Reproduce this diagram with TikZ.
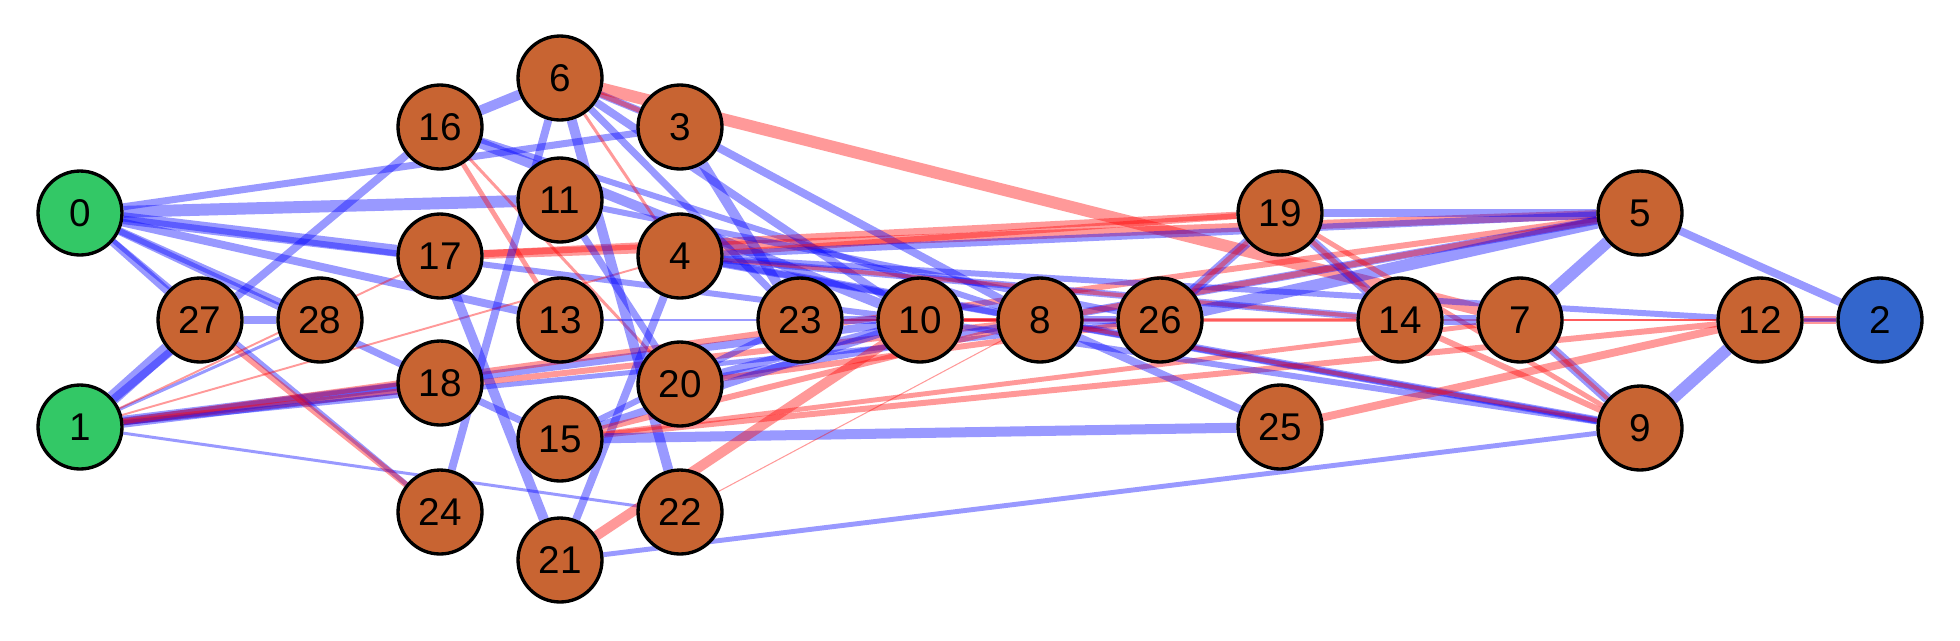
\documentclass[tikz,border=0pt]{standalone}
\usepackage{fontspec}
\setmainfont{Liberation Sans}
\usetikzlibrary{backgrounds}
\definecolor{hidcol}{RGB}{200,100,50}
\definecolor{incol}{RGB}{51,200,102}
\definecolor{outcol}{RGB}{51,102,204}
\tikzset{
	neuron/.style={circle, draw=black, line width=1.9pt, minimum size=1.68cm,
			inner sep=0pt, font=\fontsize{22}{22}\selectfont},
	hid/.style={neuron, fill=hidcol},
	inp/.style={neuron, fill=incol},
	outp/.style={neuron, fill=outcol},
	exc/.style={draw=blue, draw opacity=0.4, line width=#1},
	inh/.style={draw=red, draw opacity=0.4, line width=#1}
}

\begin{document}
\begin{tikzpicture}[x=0.02cm, y=-0.02cm]
		\useasboundingbox (0,0) rectangle (1960,640);
		%--- Input and output neurons ---
		\node[inp] (n0) at (80,213) {0};
		\node[inp] (n1) at (80,427) {1};
		\node[outp] (n2) at (1880,320) {2};
		%--- Hidden neurons ---
		\node[hid] (n27) at (200,320) {27};
		\node[hid] (n28) at (320,320) {28};
		\node[hid] (n16) at (440,127) {16};
		\node[hid] (n17) at (440,256) {17};
		\node[hid] (n18) at (440,383) {18};
		\node[hid] (n24) at (440,512) {24};
		\node[hid] (n6) at (560,78) {6};
		\node[hid] (n11) at (560,200) {11};
		\node[hid] (n13) at (560,320) {13};
		\node[hid] (n15) at (560,439) {15};
		\node[hid] (n21) at (560,560) {21};
		\node[hid] (n3) at (680,127) {3};
		\node[hid] (n4) at (680,256) {4};
		\node[hid] (n20) at (680,384) {20};
		\node[hid] (n22) at (680,512) {22};
		\node[hid] (n23) at (800,320) {23};
		\node[hid] (n10) at (920,320) {10};
		\node[hid] (n8) at (1040,320) {8};
		\node[hid] (n26) at (1160,320) {26};
		\node[hid] (n19) at (1280,213) {19};
		\node[hid] (n25) at (1280,427) {25};
		\node[hid] (n14) at (1400,320) {14};
		\node[hid] (n7) at (1520,320) {7};
		\node[hid] (n5) at (1640,213) {5};
		\node[hid] (n9) at (1640,428) {9};
		\node[hid] (n12) at (1760,320) {12};

		\begin{scope}[on background layer]
			%--- Connections from the inputs ---
			\draw[exc=4pt] (n0) -- (n3);
			\draw[exc=6.8pt] (n0) -- (n11);
			\draw[exc=6.8pt] (n0) -- (n17);
			\draw[exc=4.5pt] (n0) -- (n13);
			\draw[exc=3.4pt] (n0) -- (n10);
			\draw[exc=4.5pt] (n0) -- (n27);
			\draw[exc=4pt] (n0) -- (n28);
			\draw[exc=4pt] (n0) -- (n15);
			\draw[exc=2.8pt] (n0) -- (n24);
			\draw[exc=8pt] (n1) -- (n27);
			\draw[exc=4.5pt] (n1) -- (n16);
			\draw[exc=1.7pt] (n1) -- (n28);
			\draw[inh=1.1pt] (n1) -- (n17);
			\draw[inh=1.1pt] (n1) -- (n4);
			\draw[exc=6.8pt] (n1) -- (n18);
			\draw[exc=4.5pt] (n1) -- (n10);
			\draw[inh=3.4pt] (n1) -- (n8);
			\draw[exc=2.8pt] (n1) -- (n26);
			\draw[inh=3.4pt] (n1) -- (n5);
			\draw[exc=1.7pt] (n1) -- (n22);

			%--- Left block ---
			\draw[exc=4.5pt] (n27) -- (n28);
			\draw[inh=3.4pt] (n27) -- (n24);
			\draw[exc=5.7pt] (n16) -- (n6);
			\draw[inh=2.8pt] (n16) -- (n13);
			\draw[inh=1.7pt] (n16) -- (n20);
			\draw[exc=5.7pt] (n16) -- (n10);
			\draw[exc=3.4pt] (n16) -- (n8);
			\draw[exc=5.7pt] (n17) -- (n21);
			\draw[inh=5.1pt] (n17) -- (n5);
			\draw[inh=4pt] (n17) -- (n19);
			\draw[exc=4pt] (n6) -- (n3);
			\draw[inh=2.8pt] (n6) -- (n3);
			\draw[inh=6.8pt] (n6) -- (n7);
			\draw[exc=4.5pt] (n6) -- (n10);
			\draw[exc=4pt] (n6) -- (n23);
			\draw[inh=1.7pt] (n6) -- (n4);
			\draw[exc=5.7pt] (n6) -- (n22);
			\draw[exc=4.5pt] (n6) -- (n24);
			\draw[exc=4pt] (n11) -- (n20);
			\draw[exc=3.4pt] (n11) -- (n26);
			\draw[exc=5.7pt] (n3) -- (n23);
			\draw[exc=4.5pt] (n3) -- (n8);
			\draw[exc=4.5pt] (n4) -- (n8);
			\draw[exc=4pt] (n4) -- (n14);
			\draw[inh=2.3pt] (n4) -- (n14);
			\draw[exc=3.4pt] (n4) -- (n12);
			\draw[exc=3.4pt] (n4) -- (n9);
			\draw[inh=3.4pt] (n4) -- (n19);
			\draw[exc=4pt] (n4) -- (n5);
			\draw[exc=4.5pt] (n4) -- (n21);
			\draw[exc=1.1pt] (n13) -- (n26);
			\draw[exc=4.5pt] (n20) -- (n10);
			\draw[exc=4pt] (n20) -- (n8);
			\draw[inh=3.4pt] (n20) -- (n26);
			\draw[exc=4.5pt] (n15) -- (n10);
			\draw[exc=3.4pt] (n15) -- (n23);
			\draw[inh=3.4pt] (n15) -- (n8);
			\draw[inh=3.4pt] (n15) -- (n12);
			\draw[inh=2.8pt] (n15) -- (n7);
			\draw[exc=5.7pt] (n15) -- (n25);
			\draw[inh=5.7pt] (n21) -- (n10);
			\draw[exc=2.8pt] (n21) -- (n9);
			\draw[inh=0.6pt] (n22) -- (n8);

			%--- Middle row ---
			\draw[exc=4.5pt] (n23) -- (n10);
			\draw[inh=1.1pt] (n23) -- (n2);
			\draw[inh=2.8pt] (n10) -- (n8);
			\draw[inh=2.3pt] (n10) -- (n14);
			\draw[exc=3.4pt] (n10) -- (n9);
			\draw[exc=4.5pt] (n8) -- (n26);
			\draw[exc=4.5pt] (n8) -- (n5);
			\draw[inh=3.4pt] (n8) -- (n5);
			\draw[exc=4.5pt] (n8) -- (n9);
			\draw[inh=2.3pt] (n8) -- (n9);
			\draw[exc=4.5pt] (n8) -- (n25);

			%--- Right block ---
			\draw[exc=5.7pt] (n26) -- (n19);
			\draw[inh=2.8pt] (n26) -- (n19);
			\draw[exc=6.8pt] (n26) -- (n5);
			\draw[exc=5.7pt] (n19) -- (n14);
			\draw[inh=2.8pt] (n19) -- (n14);
			\draw[exc=4pt] (n19) -- (n5);
			\draw[inh=2.8pt] (n19) -- (n9);
			\draw[exc=5.7pt] (n14) -- (n7);
			\draw[inh=3.4pt] (n14) -- (n9);
			\draw[exc=6.8pt] (n7) -- (n5);
			\draw[exc=5.7pt] (n7) -- (n9);
			\draw[inh=2.3pt] (n7) -- (n9);
			\draw[inh=1.1pt] (n7) -- (n12);
			\draw[inh=4.5pt] (n25) -- (n12);
			\draw[exc=6.8pt] (n12) -- (n9);
			\draw[inh=4.5pt] (n12) -- (n2);
			\draw[exc=2.3pt] (n12) -- (n2);
			\draw[exc=4.5pt] (n5) -- (n2);
		\end{scope}
	\end{tikzpicture}
\end{document}
